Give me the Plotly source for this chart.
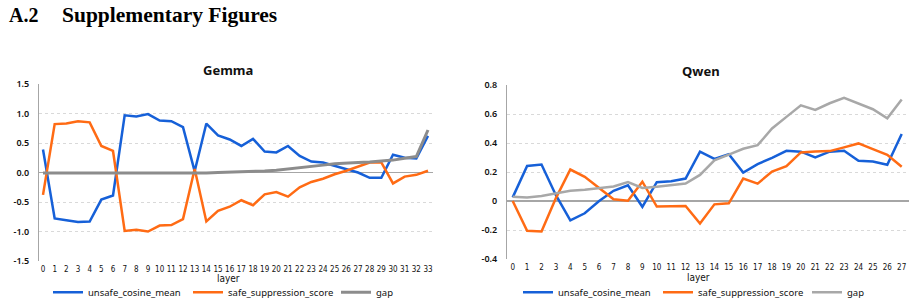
import plotly.graph_objects as go

# ---------------- data ----------------
gemma_layers = list(range(34))
gemma_unsafe = [0.39, -0.78, -0.81, -0.84, -0.83, -0.46, -0.39, 0.97, 0.95, 0.99,
                0.88, 0.87, 0.77, 0.02, 0.83, 0.63, 0.56, 0.45, 0.57, 0.355,
                0.34, 0.45, 0.28, 0.185, 0.17, 0.11, 0.055, 0.0, -0.09, -0.09,
                0.30, 0.25, 0.24, 0.62]
gemma_safe = [-0.38, 0.82, 0.83, 0.87, 0.85, 0.45, 0.365, -0.99, -0.97, -1.00,
              -0.90, -0.89, -0.79, 0.06, -0.83, -0.65, -0.58, -0.47, -0.555, -0.37,
              -0.33, -0.41, -0.25, -0.16, -0.105, -0.03, 0.03, 0.10, 0.17, 0.17,
              -0.185, -0.07, -0.04, 0.03]
gemma_gap = [-0.01, -0.01, -0.01, -0.015, -0.015, -0.015, -0.015, -0.015, -0.015, -0.015,
             -0.015, -0.015, -0.01, -0.01, -0.01, 0.0, 0.005, 0.01, 0.015, 0.025,
             0.04, 0.06, 0.075, 0.095, 0.125, 0.15, 0.165, 0.17, 0.18, 0.19,
             0.21, 0.24, 0.27, 0.72]

qwen_layers = list(range(28))
qwen_unsafe = [0.025, 0.242, 0.252, 0.04, -0.133, -0.085, 0.0, 0.07, 0.108, -0.04,
               0.13, 0.137, 0.155, 0.34, 0.29, 0.322, 0.196, 0.254, 0.298, 0.346,
               0.34, 0.30, 0.34, 0.346, 0.277, 0.272, 0.25, 0.462]
qwen_safe = [0.0, -0.206, -0.21, 0.02, 0.217, 0.167, 0.09, 0.012, 0.002, 0.133,
             -0.038, -0.034, -0.034, -0.155, -0.023, -0.016, 0.155, 0.12, 0.203, 0.24,
             0.335, 0.342, 0.344, 0.37, 0.397, 0.358, 0.319, 0.236]
qwen_gap = [0.03, 0.025, 0.034, 0.053, 0.07, 0.078, 0.087, 0.1, 0.13, 0.09,
            0.098, 0.107, 0.12, 0.18, 0.28, 0.32, 0.36, 0.385, 0.5, 0.58,
            0.66, 0.628, 0.674, 0.711, 0.67, 0.633, 0.57, 0.70]

series_names = ["unsafe_cosine_mean", "safe_suppression_score", "gap"]
gemma_yticks = [1.5, 1.0, 0.5, 0.0, -0.5, -1.0, -1.5]
gemma_yticktext = ["1.5", "1.0", "0.5", "0.0", "-0.5", "-1.0", "-1.5"]
qwen_yticks = [0.8, 0.6, 0.4, 0.2, 0.0, -0.2, -0.4]
qwen_yticktext = ["0.8", "0.6", "0.4", "0.2", "0", "-0.2", "-0.4"]

# ---------------- style ----------------
W, H = 915, 303
BLUE = "#1660d8"
ORANGE = "#ff6b14"
GRAY_G = "#8c8c8c"
GRAY_Q = "#a8a8a8"
SANS = "Noto Sans, DejaVu Sans, sans-serif"
NARROW = "Liberation Sans Narrow, DejaVu Sans Condensed, Roboto Condensed, Arial Narrow, Noto Sans, sans-serif"
SERIF = "Liberation Serif, Times New Roman, serif"


def px_x(p):
    return p / W


def px_y(p):
    return 1 - p / H


fig = go.Figure()

colors_g = [BLUE, ORANGE, GRAY_G]
colors_q = [BLUE, ORANGE, GRAY_Q]
widths_g = [2.5, 2.5, 3]
widths_q = [2.5, 2.5, 2.5]
legend_ids = [["legend", "legend2", "legend3"], ["legend4", "legend5", "legend6"]]

for i, (ys, name) in enumerate(zip([gemma_unsafe, gemma_safe, gemma_gap], series_names)):
    fig.add_trace(go.Scatter(x=gemma_layers, y=ys, name=name, mode="lines",
                             line=dict(color=colors_g[i], width=widths_g[i]),
                             xaxis="x", yaxis="y", legend=legend_ids[0][i]))
for i, (ys, name) in enumerate(zip([qwen_unsafe, qwen_safe, qwen_gap], series_names)):
    fig.add_trace(go.Scatter(x=qwen_layers, y=ys, name=name, mode="lines",
                             line=dict(color=colors_q[i], width=widths_q[i]),
                             xaxis="x2", yaxis="y2", legend=legend_ids[1][i]))

# Gemma axes: plot area x 39..433 px, y 84..261 px
g_x0, g_x1 = 39, 433
g_step = (428 - 43) / 33
fig.update_layout(
    xaxis=dict(domain=[px_x(g_x0), px_x(g_x1)],
               range=[-(43 - g_x0) / g_step, 33 + (g_x1 - 428) / g_step],
               tickmode="array", tickvals=gemma_layers, ticktext=[str(v) for v in gemma_layers],
               tickfont=dict(family=NARROW, size=8, color="#111"), showgrid=False,
               zeroline=False, showline=False, ticks="", anchor="y", ticklabelstandoff=2,
               automargin=False),
    yaxis=dict(domain=[px_y(261), px_y(84)], range=[-1.5, 1.5],
               tickmode="array", tickvals=gemma_yticks, ticktext=gemma_yticktext,
               tickfont=dict(family=SANS, size=9, color="#111", weight=600),
               showgrid=True, gridcolor="#d9d9d9", griddash="dot", gridwidth=1,
               zeroline=True, zerolinecolor="#a6a6a6", zerolinewidth=1,
               showline=True, linecolor="#a6a6a6", linewidth=1, ticks="",
               anchor="x", ticklabelstandoff=7, automargin=False),
)

# Qwen axes: plot area x 507..909 px, y 85..259 px
q_x0, q_x1 = 507, 909
q_step = (901.7 - 512.7) / 27
fig.update_layout(
    xaxis2=dict(domain=[px_x(q_x0), px_x(q_x1)],
                range=[-(512.7 - q_x0) / q_step, 27 + (q_x1 - 901.7) / q_step],
                tickmode="array", tickvals=qwen_layers, ticktext=[str(v) for v in qwen_layers],
                tickfont=dict(family=NARROW, size=8, color="#111"), showgrid=False,
                zeroline=False, showline=False, ticks="", anchor="y2", ticklabelstandoff=2,
                automargin=False),
    yaxis2=dict(domain=[px_y(259), px_y(85)], range=[-0.4, 0.8],
                tickmode="array", tickvals=qwen_yticks, ticktext=qwen_yticktext,
                tickfont=dict(family=SANS, size=9, color="#111", weight=600),
                showgrid=True, gridcolor="#d9d9d9", griddash="dot", gridwidth=1,
                zeroline=True, zerolinecolor="#a6a6a6", zerolinewidth=1.5,
                showline=True, linecolor="#a6a6a6", linewidth=1, ticks="",
                anchor="x2", ticklabelstandoff=7, automargin=False),
)

# legends: each entry positioned separately
text_starts = [[88, 228, 376], [558, 698, 847]]
leg_kwargs = {}
for g in range(2):
    for i in range(3):
        leg_kwargs[legend_ids[g][i]] = dict(
            x=px_x(text_starts[g][i] - 40), y=-0.012, xanchor="left", yanchor="bottom",
            orientation="h", font=dict(family=SANS, size=9.5, color="#111"),
            bgcolor="rgba(0,0,0,0)", borderwidth=0, itemwidth=30,
            tracegroupgap=0)
fig.update_layout(**leg_kwargs)

annotations = [
    dict(text="A.2", x=px_x(7), y=px_y(15), xanchor="left", yanchor="middle",
         font=dict(family=SERIF, size=20, color="#000", weight="bold")),
    dict(text="Supplementary Figures", x=px_x(60), y=px_y(15), xanchor="left", yanchor="middle",
         font=dict(family=SERIF, size=21.5, color="#000", weight="bold")),
    dict(text="Gemma", x=px_x(228), y=px_y(70), xanchor="center", yanchor="middle",
         font=dict(family=SANS, size=13, color="#111", weight="bold")),
    dict(text="Qwen", x=px_x(701), y=px_y(71), xanchor="center", yanchor="middle",
         font=dict(family=SANS, size=13, color="#111", weight="bold")),
    dict(text="layer", x=px_x(228), y=px_y(278), xanchor="center", yanchor="middle",
         font=dict(family=NARROW, size=10, color="#111")),
    dict(text="layer", x=px_x(698), y=px_y(277), xanchor="center", yanchor="middle",
         font=dict(family=NARROW, size=10, color="#111")),
]
for a in annotations:
    a.update(xref="paper", yref="paper", showarrow=False)

fig.update_layout(
    width=W, height=H, margin=dict(l=0, r=0, t=0, b=0, autoexpand=False),
    paper_bgcolor="white", plot_bgcolor="white",
    annotations=annotations, showlegend=True,
)

fig.write_html("out.html")
